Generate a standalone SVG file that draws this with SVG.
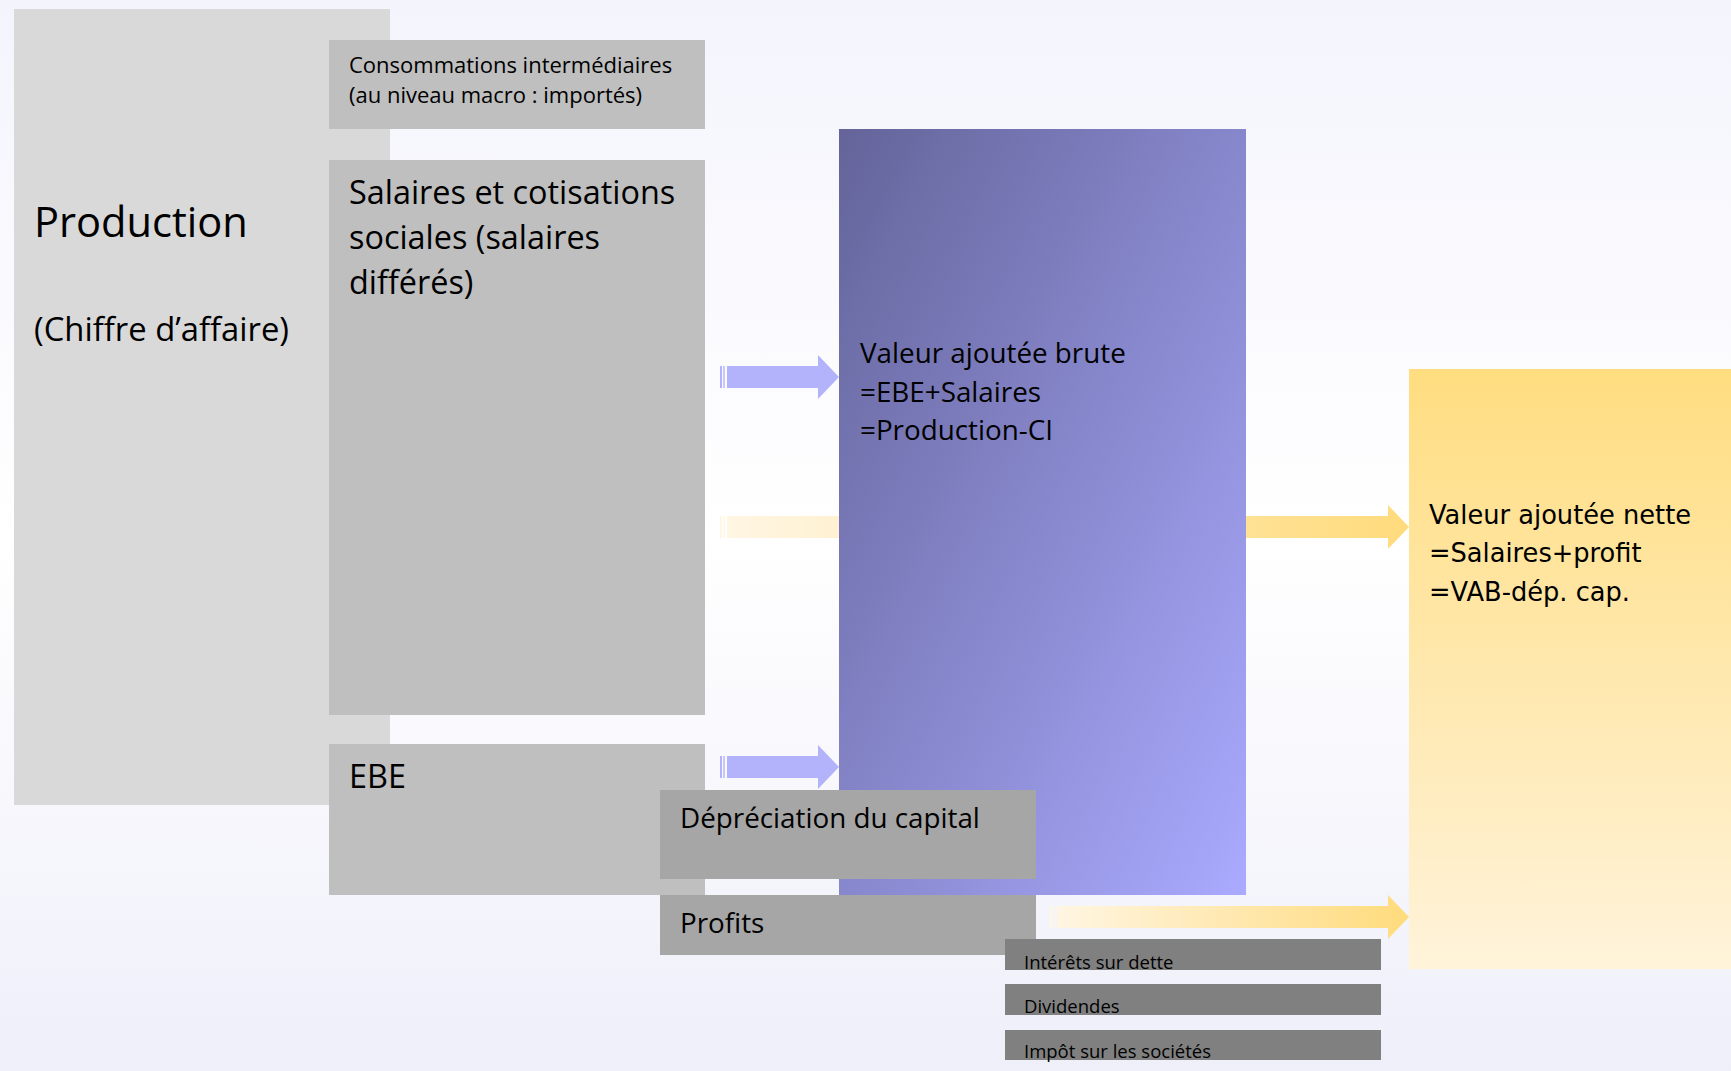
<svg xmlns="http://www.w3.org/2000/svg" width="1731" height="1071" viewBox="0 0 1731 1071">
  <defs>
    <linearGradient id="bg" x1="0" y1="0" x2="0" y2="1">
      <stop offset="0" stop-color="#f4f4fd"/>
      <stop offset="0.5" stop-color="#ffffff"/>
      <stop offset="1" stop-color="#efeffa"/>
    </linearGradient>
    <linearGradient id="vab" x1="0" y1="0" x2="1" y2="1">
      <stop offset="0" stop-color="#64649a"/>
      <stop offset="1" stop-color="#aaaaff"/>
    </linearGradient>
    <linearGradient id="van" x1="0" y1="0" x2="0" y2="1">
      <stop offset="0" stop-color="#ffdd80"/>
      <stop offset="1" stop-color="#fff3da"/>
    </linearGradient>
    <linearGradient id="yel2" gradientUnits="userSpaceOnUse" x1="720" y1="0" x2="1409" y2="0">
      <stop offset="0" stop-color="#fff6e4"/>
      <stop offset="1" stop-color="#ffdb7c"/>
    </linearGradient>
    <linearGradient id="yel3" gradientUnits="userSpaceOnUse" x1="1050" y1="0" x2="1409" y2="0">
      <stop offset="0" stop-color="#fff6e4"/>
      <stop offset="1" stop-color="#ffdb7c"/>
    </linearGradient>
  </defs>
  <style>
    .t { font-family: "Open Sans", "Noto Sans", sans-serif; fill: #000000; }
    .v { font-family: "DejaVu Sans", Verdana, sans-serif; fill: #000000; }
    .g1 { fill: #d9d9d9; }
    .g2 { fill: #bfbfbf; }
    .g3 { fill: #a6a6a6; }
    .g4 { fill: #808080; }
    .blue { fill: #b3b3fb; }
  </style>

  <rect x="0" y="0" width="1731" height="1071" fill="url(#bg)"/>

  <g id="production">
    <rect class="g1" x="14" y="9" width="376" height="796"/>
    <text class="t" x="34" y="237" font-size="41.6">Production</text>
    <text class="t" x="34" y="341" font-size="32.8">(Chiffre d’affaire)</text>
  </g>

  <g id="consommations-intermediaires">
    <rect class="g2" x="329" y="40" width="376" height="89"/>
    <text class="t" font-size="22">
      <tspan x="349" y="73">Consommations intermédiaires</tspan>
      <tspan x="349" y="103">(au niveau macro : importés)</tspan>
    </text>
  </g>

  <g id="salaires">
    <rect class="g2" x="329" y="160" width="376" height="555"/>
    <text class="t" font-size="32.4">
      <tspan x="349" y="204">Salaires et cotisations</tspan>
      <tspan x="349" y="249">sociales (salaires</tspan>
      <tspan x="349" y="294">différés)</tspan>
    </text>
  </g>

  <g id="ebe">
    <rect class="g2" x="329" y="744" width="376" height="151"/>
    <text class="t" x="349" y="788" font-size="32.4">EBE</text>
  </g>

  <g id="connectors">
    <g id="arrow-salaires-vab">
      <rect class="blue" x="720" y="366" width="2" height="22"/>
      <rect class="blue" x="723.3" y="366" width="1.4" height="22"/>
      <path class="blue" d="M727,366 H818 V355 L839,377 L818,399 V388 H727 Z"/>
    </g>
    <g id="arrow-ebe-vab">
      <rect class="blue" x="720" y="756" width="2" height="22"/>
      <rect class="blue" x="723.3" y="756" width="1.4" height="22"/>
      <path class="blue" d="M727,756 H818 V745 L839,767 L818,789 V778 H727 Z"/>
    </g>
    <g id="arrow-salaires-van" fill="url(#yel2)">
      <rect x="720" y="516" width="2" height="22"/>
      <rect x="723.3" y="516" width="1.4" height="22"/>
      <path d="M727,516 H1388 V505 L1409,527 L1388,549 V538 H727 Z"/>
    </g>
    <g id="arrow-profits-van" fill="url(#yel3)">
      <rect x="1050" y="906" width="2" height="22"/>
      <rect x="1053.3" y="906" width="1.4" height="22"/>
      <path d="M1057,906 H1388 V895 L1409,917 L1388,939 V928 H1057 Z"/>
    </g>
  </g>

  <g id="valeur-ajoutee-brute">
    <rect x="839" y="129" width="407" height="766" fill="url(#vab)"/>
    <text class="t" font-size="27.8">
      <tspan x="860" y="363">Valeur ajoutée brute</tspan>
      <tspan x="860" y="402">=EBE+Salaires</tspan>
      <tspan x="860" y="440">=Production-CI</tspan>
    </text>
  </g>

  <g id="valeur-ajoutee-nette">
    <rect x="1409" y="369" width="322" height="600" fill="url(#van)"/>
    <text class="v" font-size="25.7">
      <tspan x="1429" y="524">Valeur ajoutée nette</tspan>
      <tspan x="1429" y="562">=Salaires+profit</tspan>
      <tspan x="1429" y="601">=VAB-dép. cap.</tspan>
    </text>
  </g>

  <g id="depreciation">
    <rect class="g3" x="660" y="790" width="376" height="89"/>
    <text class="t" x="680" y="828" font-size="27.8">Dépréciation du capital</text>
  </g>

  <g id="profits">
    <rect class="g3" x="660" y="895" width="376" height="60"/>
    <text class="t" x="680" y="933" font-size="27.8">Profits</text>
  </g>

  <g id="interets">
    <rect class="g4" x="1005" y="939" width="376" height="31"/>
    <text class="t" x="1024" y="969" font-size="18.5">Intérêts sur dette</text>
  </g>

  <g id="dividendes">
    <rect class="g4" x="1005" y="984" width="376" height="31"/>
    <text class="t" x="1024" y="1013" font-size="18.5">Dividendes</text>
  </g>

  <g id="impot">
    <rect class="g4" x="1005" y="1030" width="376" height="30"/>
    <text class="t" x="1024" y="1058" font-size="18.5">Impôt sur les sociétés</text>
  </g>
</svg>
